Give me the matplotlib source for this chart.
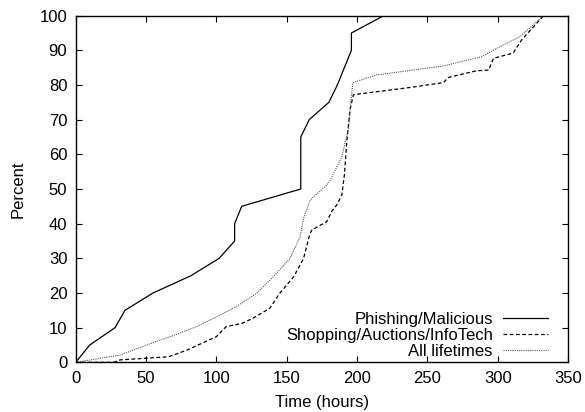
import matplotlib
matplotlib.use("Agg")
import matplotlib.pyplot as plt

plt.rcParams['font.family'] = ['Liberation Sans', 'DejaVu Sans']

# Phishing/Malicious (hours, percent)
phish_t = [0, 10, 28, 35, 55, 82, 102, 113, 113, 118, 160, 160, 166, 180, 186, 196, 196, 219, 350]
phish_p = [0, 5, 10, 15, 20, 25, 30, 35, 40, 45, 50, 65, 70, 75, 80, 90, 95, 100, 100]

# Shopping/Auctions/InfoTech
shop_t = [0, 27, 31.5, 66, 79, 100, 107, 118, 126, 138, 145, 155, 162, 166.6, 168, 178.5,
          182, 185.6, 189.2, 191, 192.8, 195, 197.4, 238, 261.5, 265, 285, 293.5, 297,
          311, 317, 325.5, 332.6]
shop_p = [0, 0, 0.7, 1.6, 3.5, 7.4, 10.3, 11.2, 12.7, 15.6, 19.9, 24.7, 30, 37.2, 38.2, 40.6,
          43.5, 45.4, 48.3, 54, 64.1, 72.8, 77.2, 79.3, 80.7, 82.2, 84.1, 84.3, 87.7,
          89.2, 93, 96.8, 100]

# All lifetimes
all_t = [0, 31.5, 50.5, 67, 86, 102.6, 114.5, 128.7, 140.5, 152.4, 159.5, 162, 166.6,
         178.5, 181, 189.2, 194, 195, 197, 214, 261.5, 288.8, 299.4, 316, 332.6]
all_p = [0, 2.1, 5, 7.4, 10.3, 13.6, 16.2, 19.9, 24.7, 30, 36.2, 41.5, 46.8,
         51.1, 52.6, 59.3, 67.5, 72.8, 80.7, 82.9, 85.5, 88.2, 90.6, 94, 100]

fig = plt.figure(figsize=(5.85, 4.12), dpi=100)
ax = fig.add_axes([0.1294, 0.1206, 0.8416, 0.8414])

ax.plot(phish_t, phish_p, color='black', lw=0.9, label='Phishing/Malicious')
ax.plot(shop_t, shop_p, color='black', lw=0.9, ls=(0, (3, 2)),
        label='Shopping/Auctions/InfoTech')
ax.plot(all_t, all_p, color='#555555', lw=0.8, ls=(0, (1, 1)), label='All lifetimes')

ax.set_xlim(0, 350)
ax.set_ylim(0, 100)
ax.set_xticks(range(0, 351, 50))
ax.set_yticks(range(0, 101, 10))
ax.tick_params(direction='in', length=4, top=True, right=True, labelsize=12, pad=6)
for s in ax.spines.values():
    s.set_linewidth(1.0)

ax.set_xlabel('Time (hours)', fontsize=12, labelpad=7)
ax.set_ylabel('Percent', fontsize=12, labelpad=10)

ax.legend(loc='lower right', bbox_to_anchor=(0.959, 0.01), frameon=False,
          markerfirst=False, fontsize=12, handlelength=2.7, labelspacing=0.05,
          borderaxespad=0, borderpad=0, handletextpad=0.6)

fig.savefig('out.png', dpi=100)
